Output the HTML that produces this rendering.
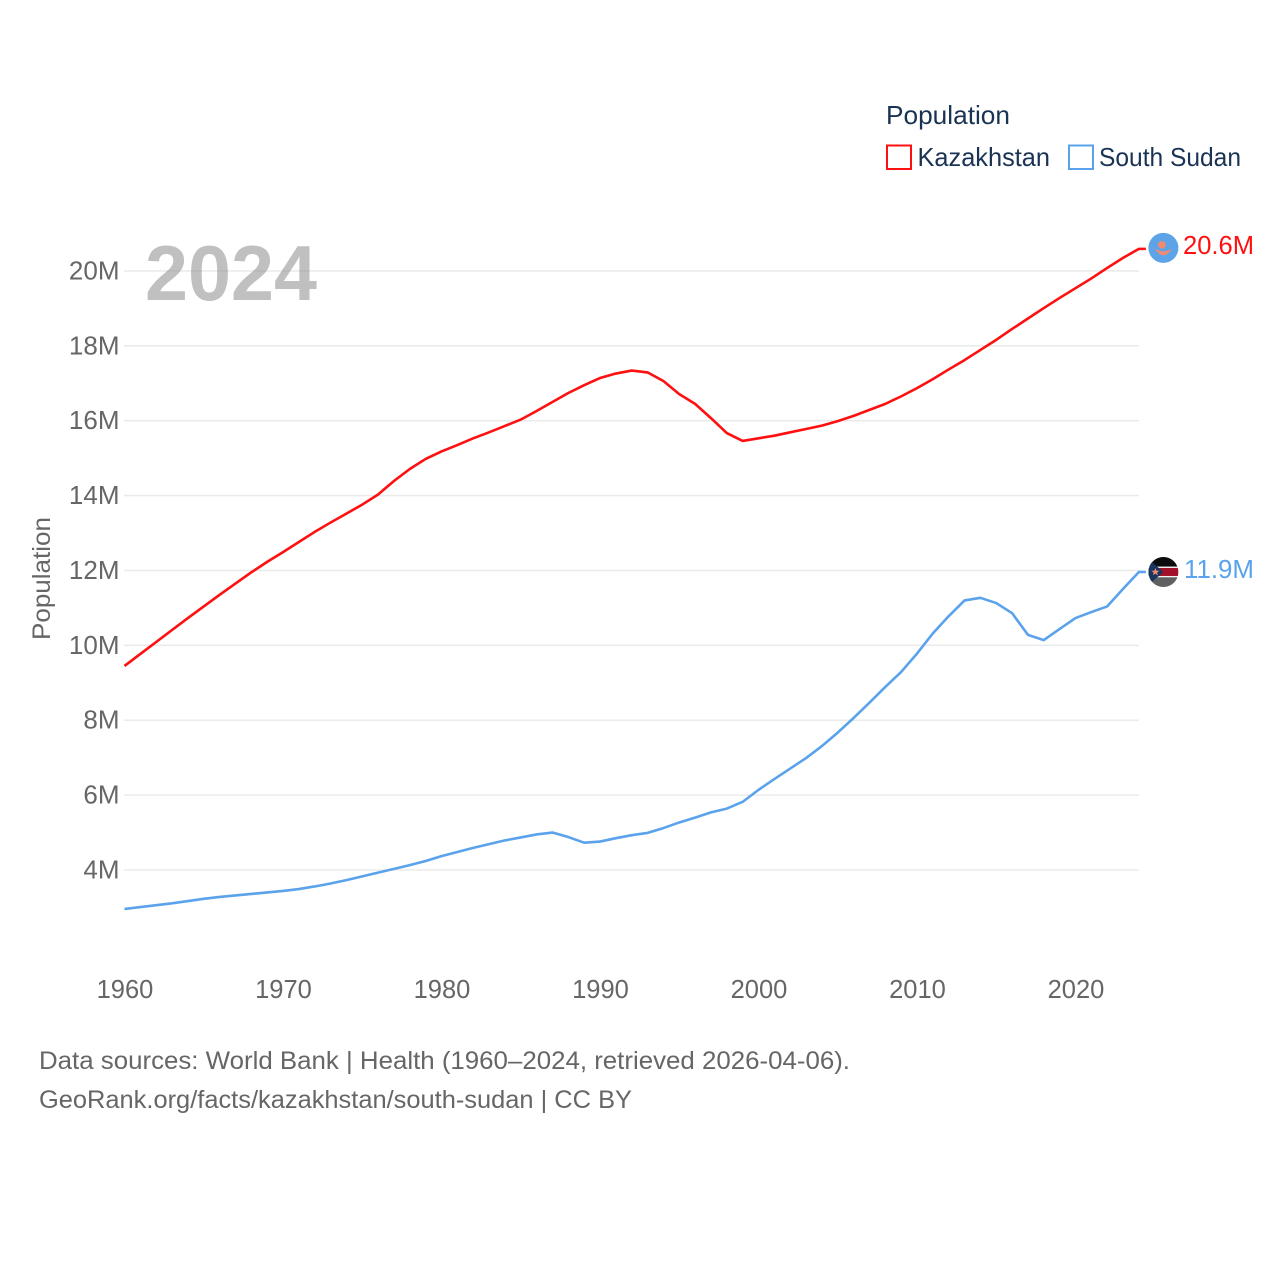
<!DOCTYPE html>
<html>
<head>
<meta charset="utf-8">
<title>Population: Kazakhstan and South Sudan</title>
<style>
html,body{margin:0;padding:0;background:#fff;}
svg{display:block;font-family:"Liberation Sans",Arial,sans-serif;}
</style>
</head>
<body>
<svg id="chart" width="1280" height="1280" viewBox="0 0 1280 1280" xmlns="http://www.w3.org/2000/svg">
  <rect width="1280" height="1280" fill="#ffffff"/>
  <g id="grid"></g>
  <g id="yticks"></g>
  <g id="xticks"></g>
  <text x="145" y="300" font-size="78" font-weight="700" fill="#8f8f8f" fill-opacity="0.56" textLength="172" lengthAdjust="spacingAndGlyphs">2024</text>
  <text transform="translate(50 640) rotate(-90)" font-size="25" fill="#666666" textLength="123" lengthAdjust="spacingAndGlyphs">Population</text>
  <g id="series"></g>

  <g id="flag-kz">
    <circle cx="0" cy="0" r="15" fill="#5da3e8"/>
    <circle cx="-1.5" cy="-3" r="3.8" fill="#f08a70"/>
    <path d="M-8.5 1 L-3 3 Q0 4 3 3 L8.5 1 Q4 7.5 0 7.5 Q-4 7.5 -8.5 1 Z" fill="#f08a70"/>
  </g>
  <g id="flag-ss">
    <clipPath id="ss-clip"><circle cx="0" cy="0" r="15"/></clipPath>
    <g clip-path="url(#ss-clip)">
      <rect x="-15" y="-15" width="30" height="9.7" fill="#0c0c0c"/>
      <rect x="-15" y="-5.3" width="30" height="10.6" fill="#f2f2f2"/>
      <rect x="-15" y="-4" width="30" height="8" fill="#a2102a"/>
      <rect x="-15" y="5.3" width="30" height="9.7" fill="#606060"/>
      <path d="M-15 -13 L0 0 L-15 13 Z" fill="#16365f"/>
      <path d="M-8 -4 L-6.9 -1.2 L-4 -1.2 L-6.3 0.6 L-5.5 3.4 L-8 1.7 L-10.5 3.4 L-9.7 0.6 L-12 -1.2 L-9.1 -1.2 Z" fill="#f08a70"/>
    </g>
  </g>
  <g id="end-labels"></g>

  <g>
    <text x="886" y="124" font-size="26" fill="#1a3354" textLength="124" lengthAdjust="spacingAndGlyphs">Population</text>
    <g>
      <rect x="887" y="145.5" width="24" height="23.5" fill="#ffffff" stroke="#ff1010" stroke-width="2"/>
      <text x="917.5" y="166" font-size="26" fill="#1a3354" textLength="132.5" lengthAdjust="spacingAndGlyphs">Kazakhstan</text>
    </g>
    <g>
      <rect x="1069" y="145.5" width="24" height="23.5" fill="#ffffff" stroke="#5aa3ec" stroke-width="2"/>
      <text x="1099" y="166" font-size="26" fill="#1a3354" textLength="142" lengthAdjust="spacingAndGlyphs">South Sudan</text>
    </g>
  </g>

  <g>
    <text x="39" y="1069" font-size="25" fill="#666666" textLength="811" lengthAdjust="spacingAndGlyphs">Data sources: World Bank | Health (1960–2024, retrieved 2026-04-06).</text>
    <text x="39" y="1108" font-size="25" fill="#666666" textLength="593" lengthAdjust="spacingAndGlyphs">GeoRank.org/facts/kazakhstan/south-sudan | CC BY</text>
  </g>
</svg>
<script>
const firstYear = 1960;
const kazakhstanValues = [9.45,9.77,10.09,10.41,10.73,11.04,11.35,11.65,11.95,12.23,12.49,12.76,13.03,13.28,13.52,13.76,14.03,14.39,14.71,14.98,15.18,15.35,15.53,15.69,15.86,16.03,16.26,16.50,16.74,16.95,17.14,17.26,17.34,17.29,17.06,16.71,16.45,16.07,15.67,15.46,15.53,15.60,15.69,15.78,15.87,15.99,16.13,16.29,16.45,16.65,16.87,17.11,17.37,17.62,17.89,18.16,18.45,18.73,19.01,19.28,19.54,19.80,20.08,20.35,20.59];
const southSudanValues = [2.96,3.01,3.06,3.11,3.17,3.23,3.28,3.32,3.36,3.40,3.44,3.49,3.56,3.64,3.73,3.83,3.93,4.03,4.13,4.24,4.37,4.48,4.59,4.69,4.79,4.87,4.95,5.00,4.88,4.73,4.76,4.85,4.93,4.99,5.12,5.27,5.40,5.54,5.64,5.82,6.14,6.43,6.71,6.99,7.31,7.67,8.06,8.47,8.89,9.29,9.78,10.32,10.78,11.20,11.27,11.13,10.86,10.28,10.14,10.44,10.73,10.89,11.04,11.51,11.96];
const yTickValues = [4,6,8,10,12,14,16,18,20];
const yTickLabels = ["4M","6M","8M","10M","12M","14M","16M","18M","20M"];
const xTickYears = [1960,1970,1980,1990,2000,2010,2020];
const endValueLabels = ["20.6M","11.9M"];

const NS = 'http://www.w3.org/2000/svg';
function xScale(year){ return 124.5 + (year - 1960) * 15.85; }
function yScale(v){ return 870 - (v - 4) * 37.44; }
function make(tag, attrs){
  const el = document.createElementNS(NS, tag);
  for (const k in attrs) el.setAttribute(k, attrs[k]);
  return el;
}

const grid = document.getElementById('grid');
const yticks = document.getElementById('yticks');
yTickValues.forEach(function(v, i){
  const line = make('line', {x1:124, x2:1139, y1:yScale(v), y2:yScale(v), stroke:'#ebebeb', 'stroke-width':1.6});
  
  
  grid.appendChild(line);
  const t = make('text', {x:119.5, y:yScale(v)+8.5, 'text-anchor':'end', 'font-size':26, fill:'#666666'});
  
  
  t.textContent = yTickLabels[i];
  yticks.appendChild(t);
});

const xticks = document.getElementById('xticks');
xTickYears.forEach(function(yr){
  const t = make('text', {x:xScale(yr)+0.5, y:998, 'text-anchor':'middle', 'font-size':25.5, fill:'#666666'});
  
  
  t.textContent = String(yr);
  xticks.appendChild(t);
});

function drawSeries(values, color, name){
  let d = '';
  values.forEach(function(v, i){
    d += (i ? 'L' : 'M') + xScale(firstYear + i).toFixed(2) + ' ' + yScale(v).toFixed(2) + ' ';
  });
  const last = values[values.length - 1];
  d += 'L' + (xScale(firstYear + values.length - 1) + 7).toFixed(2) + ' ' + yScale(last).toFixed(2);
  const p = make('path', {d:d, fill:'none', stroke:color, 'stroke-width':2.6, 'stroke-linejoin':'round'});
  
  
  document.getElementById('series').appendChild(p);
}
drawSeries(kazakhstanValues, '#ff1010', 'kazakhstan-line');
drawSeries(southSudanValues, '#5aa3ec', 'south-sudan-line');

const lastKz = kazakhstanValues[kazakhstanValues.length - 1];
const lastSs = southSudanValues[southSudanValues.length - 1];
const markerX = xScale(firstYear + kazakhstanValues.length - 1) + 24.5;
document.getElementById('flag-kz').setAttribute('transform', 'translate(' + markerX + ' ' + (yScale(lastKz) - 1) + ')');
document.getElementById('flag-ss').setAttribute('transform', 'translate(' + markerX + ' ' + yScale(lastSs) + ')');

const endLabels = document.getElementById('end-labels');
const kzLabel = make('text', {x:1183, y:yScale(lastKz)+5, 'font-size':26, fill:'#ff1010', textLength:71, lengthAdjust:'spacingAndGlyphs'});


kzLabel.textContent = endValueLabels[0];
endLabels.appendChild(kzLabel);
const ssLabel = make('text', {x:1184, y:yScale(lastSs)+6, 'font-size':26, fill:'#5aa3ec', textLength:70, lengthAdjust:'spacingAndGlyphs'});


ssLabel.textContent = endValueLabels[1];
endLabels.appendChild(ssLabel);
</script>
</body>
</html>
